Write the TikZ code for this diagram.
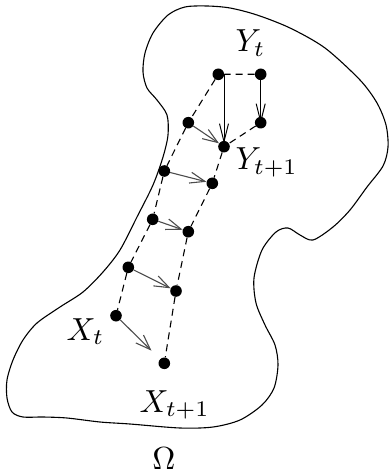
\documentclass[tikz,border=0pt]{standalone}
\usetikzlibrary{arrows.meta}
\begin{document}
\begin{tikzpicture}[x=1bp,y=-1bp,
  dot/.style={circle,fill=black,inner sep=0pt,minimum size=11.6bp},
  lbl/.style={inner sep=0pt,scale=3.2},
  chain/.style={line width=1.1bp,dash pattern=on 7bp off 5bp},
  move/.style={line width=1.1bp,draw=black!70,-{Straight Barb[length=15bp,width=11bp,line width=1.1bp]}},
  vmove/.style={line width=1bp,-{Straight Barb[length=18bp,width=9bp,line width=1bp]}},
  outline/.style={line width=1.1bp}]
\useasboundingbox (0,0) rectangle (389,475);
% domain outline
\draw[outline] plot[smooth cycle,tension=0.5] coordinates {
 (185,7) (207,6) (230,8) (257,15) (290,28) (325,48) (360,80) (377,103)
 (386,125) (388,147) (383,166) (367,187) (350,210) (333,227) (313,240)
 (300,235) (288,228) (276,232) (262,250) (254,278) (256,303) (265,325)
 (275,345) (278,365) (274,388) (262,405) (240,420) (213,427) (180,428)
 (130,424) (100,422) (67,418) (43,417) (23,417) (12,412) (7,398) (7,380)
 (13,360) (23,340) (37,323) (60,307) (83,292) (103,272) (120,250)
 (137,217) (153,185) (163,157) (168,135) (167,115) (157,100) (147,88)
 (143,72) (145,53) (153,33) (168,15)};
% points
\node[dot] (A)  at (218.3,74.3) {};
\node[dot] (B)  at (260.7,74.3) {};
\node[dot] (B2) at (260.7,122.7) {};
\node[dot] (C)  at (224,146.7) {};
\node[dot] (L1) at (188.3,122.7) {};
\node[dot] (L2) at (164.3,171) {};
\node[dot] (L3) at (152.7,219.3) {};
\node[dot] (L4) at (128.3,267.3) {};
\node[dot] (Xt) at (116,315.7) {};
\node[dot] (R2) at (212.3,183.3) {};
\node[dot] (R3) at (188.3,231.7) {};
\node[dot] (R4) at (176,291) {};
\node[dot] (X1) at (164.3,363.3) {};
% dashed chains
\draw[chain] (B) -- (A) -- (L1) -- (L2) -- (L3) -- (L4) -- (Xt);
\draw[chain] (B2) -- (C) -- (R2) -- (R3) -- (R4) -- (X1);
% moves
\draw[vmove] (A.center -| C) -- ([yshift=-3bp]C.north);
\draw[vmove] (B) -- ([yshift=-7bp]B2.north);
\draw[move] (L1) -- (C);
\draw[move] (L2) -- (R2);
\draw[move] (L3) -- (R3);
\draw[move] (L4) -- (R4);
\draw[move,shorten >=12bp] (Xt) -- (X1);
% labels
\node[lbl,anchor=base west] (lYt) at (235,52) {$Y_t$};
\node[lbl,anchor=base west] (lYt1) at (235,170) {$Y_{t+1}$};
\node[lbl,anchor=base west] (lXt) at (66,340) {$X_t$};
\node[lbl,anchor=base west] (lXt1) at (139,412) {$X_{t+1}$};
\node[lbl,anchor=base] (lOm) at (164,469) {$\Omega$};
\end{tikzpicture}
\end{document}
